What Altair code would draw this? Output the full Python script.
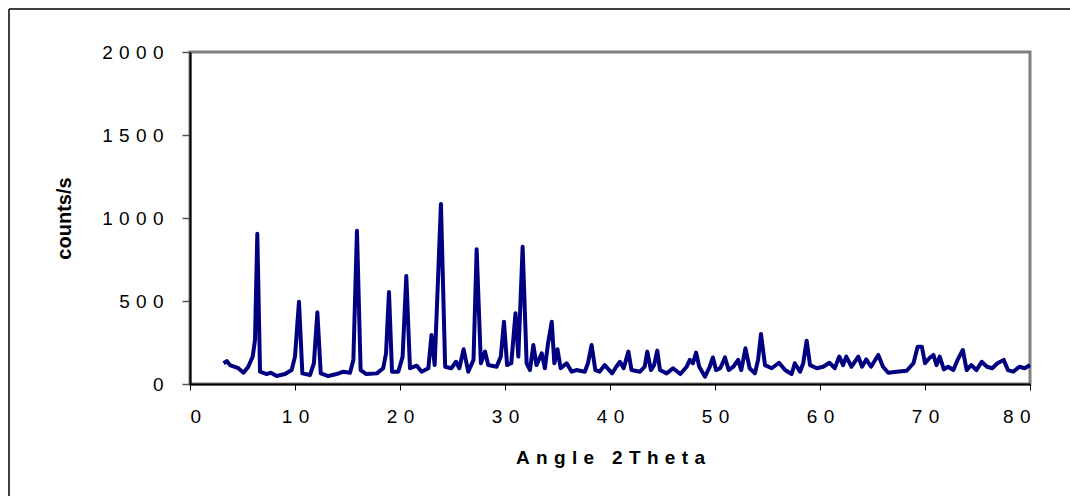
import altair as alt
import pandas as pd

theta = [3.2, 3.5, 3.8, 4.6, 5.1, 5.55, 5.97, 6.19, 6.41, 6.67,
         7.3, 7.7, 8.25, 9.05, 9.68, 10.0, 10.38, 10.7, 11.43, 11.8,
         12.13, 12.45, 13.17, 13.97, 14.6, 15.24, 15.56, 15.9, 16.25, 16.8,
         17.8, 18.4, 18.67, 18.95, 19.24, 19.84, 20.25, 20.6, 20.95, 21.6,
         22.06, 22.7, 23.0, 23.3, 23.9, 24.3, 24.9, 25.33, 25.65, 26.06,
         26.5, 27.0, 27.3, 27.7, 28.1, 28.4, 29.2, 29.6, 29.9, 30.2,
         30.6, 31.0, 31.27, 31.68, 32.06, 32.38, 32.7, 33.0, 33.5, 33.8,
         34.1, 34.45, 34.7, 35.0, 35.3, 35.87, 36.35, 36.8, 37.6, 37.9,
         38.25, 38.6, 39.0, 39.5, 40.2, 40.6, 40.95, 41.3, 41.75, 42.05,
         42.86, 43.3, 43.55, 43.9, 44.2, 44.5, 44.76, 45.4, 46.0, 46.7,
         47.3, 47.6, 47.9, 48.2, 48.5, 49.05, 49.5, 49.8, 50.1, 50.5,
         50.95, 51.3, 51.75, 52.2, 52.5, 52.9, 53.3, 53.8, 54.1, 54.38,
         54.76, 55.4, 56.1, 56.67, 57.3, 57.6, 58.1, 58.4, 58.73, 59.05,
         59.7, 60.3, 60.9, 61.4, 61.84, 62.2, 62.5, 63.0, 63.65, 64.0,
         64.4, 64.86, 65.55, 66.0, 66.5, 67.3, 68.26, 68.9, 69.3, 69.7,
         70.0, 70.4, 70.8, 71.1, 71.4, 71.8, 72.2, 72.7, 73.1, 73.6,
         73.97, 74.4, 74.9, 75.4, 75.9, 76.4, 76.9, 77.5, 77.9, 78.4,
         79.0, 79.5, 80.0]

counts = [125, 138, 114, 95, 68, 104, 165, 265, 905, 74,
          60, 68, 48, 60, 84, 165, 496, 64, 54, 125,
          432, 64, 48, 60, 74, 68, 145, 923, 84, 60,
          64, 95, 185, 554, 74, 74, 165, 650, 95, 110,
          74, 95, 295, 114, 1084, 104, 95, 134, 95, 209,
          74, 145, 811, 125, 195, 114, 104, 165, 375, 114,
          125, 426, 165, 827, 125, 84, 235, 114, 185, 95,
          245, 375, 125, 209, 95, 125, 74, 84, 74, 125,
          235, 84, 74, 114, 64, 104, 134, 95, 195, 84,
          74, 104, 195, 84, 114, 201, 84, 64, 95, 60,
          104, 145, 125, 189, 104, 44, 104, 160, 84, 95,
          160, 84, 104, 145, 84, 215, 95, 64, 145, 301,
          114, 95, 128, 84, 60, 125, 74, 125, 261, 114,
          95, 104, 128, 95, 165, 114, 165, 104, 165, 104,
          148, 104, 175, 104, 68, 74, 80, 125, 225, 225,
          125, 155, 175, 114, 165, 88, 104, 84, 145, 205,
          84, 114, 84, 134, 104, 95, 125, 145, 84, 74,
          104, 95, 114]

x_ticks = [0, 10, 20, 30, 40, 50, 60, 70, 80]
y_ticks = [0, 500, 1000, 1500, 2000]

assert len(theta) == len(counts)

df = pd.DataFrame({"theta": theta, "counts": counts})

SP = "\u2004"
spaced = "join(split(datum.label, ''), '\u2004')"
x_title = SP.join("Angle") + SP + "\u00a0" + SP + SP.join("2Theta")

line = alt.Chart(df).mark_line(color="#000080", strokeWidth=4, strokeJoin="round").encode(
    x=alt.X("theta:Q",
            scale=alt.Scale(domain=[0, 80], nice=False, zero=False),
            axis=alt.Axis(values=x_ticks, format="d",
                          labelExpr=spaced, grid=False,
                          title=x_title,
                          titleFontWeight="bold", titleFontSize=19,
                          titleY=73, titleBaseline="middle",
                          tickSize=6, tickColor="black", tickWidth=1,
                          labelPadding=17)),
    y=alt.Y("counts:Q",
            scale=alt.Scale(domain=[0, 2000], nice=False),
            axis=alt.Axis(values=y_ticks, format="d",
                          labelExpr=spaced, grid=False,
                          title="counts/s",
                          titleFontWeight="bold", titleFontSize=20,
                          titleAngle=-90, titleX=-126, titleY=166,
                          titleAlign="center", titleBaseline="middle",
                          tickSize=8, tickColor="#555555", tickWidth=1.5,
                          labelPadding=19)),
)

blank = alt.Data(values=[{"k": 1}])
left_border = alt.Chart(blank).mark_rule(color="black", strokeWidth=1.5).encode(
    x=alt.value(-181), y=alt.value(-43), y2=alt.value(460))
top_border = alt.Chart(blank).mark_rule(color="black", strokeWidth=1.5).encode(
    y=alt.value(-43), x=alt.value(-181), x2=alt.value(900))

chart = alt.layer(line, left_border, top_border).properties(
    width=840, height=332,
    autosize=alt.AutoSizeParams(type="none"),
    padding={"left": 190, "top": 52, "right": 40, "bottom": 112},
    background="white",
).configure_view(
    stroke="#808080", strokeWidth=3
).configure_axis(
    domainColor="black", domainWidth=2,
    labelFont="Liberation Sans", labelFontSize=19, labelColor="black",
    titleFont="Liberation Sans", titleColor="black",
)

chart.save("out.html", embed_options={"renderer": "svg", "actions": False})
